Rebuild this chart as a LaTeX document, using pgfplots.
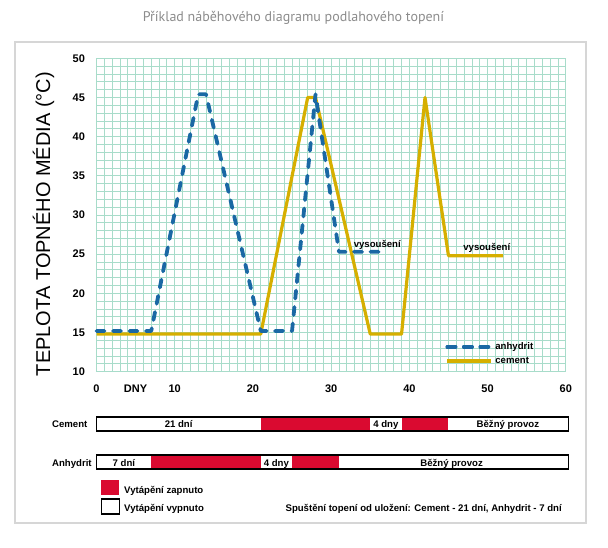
\documentclass[border=0pt]{standalone}
\usepackage{pgfplots}
\pgfplotsset{compat=1.18}
\usepackage{fontspec}
\setmainfont{Liberation Sans}
\newfontfamily\titlefont{PT Sans}

\definecolor{gridc}{RGB}{168,220,202}
\definecolor{anhc}{RGB}{26,104,164}
\definecolor{cemc}{RGB}{214,175,0}
\definecolor{heatc}{RGB}{218,10,48}
\definecolor{framec}{RGB}{214,214,214}
\definecolor{titlec}{RGB}{140,140,140}

\newcommand{\sm}{\bfseries\fontsize{9.6}{11}\selectfont}

\begin{document}
\begin{tikzpicture}[x=1pt,y=1pt]
\useasboundingbox (0,0) rectangle (608,547);
\draw[framec, line width=1.3pt] (15,24) rectangle (586,505);
\node[titlec, font=\titlefont\fontsize{14}{16}\selectfont] at (293.5,529)
  {Příklad náběhového diagramu podlahového topení};

% main chart
\begin{axis}[
  at={(96.5pt,175.3pt)}, anchor=south west,
  scale only axis, width=469.3pt, height=313.4pt,
  xmin=0, xmax=60, ymin=10, ymax=50,
  xtick={0,10,...,60}, xticklabels={0,10,20,30,40,50,60},
  extra x ticks={5}, extra x tick labels={DNY},
  extra x tick style={grid=none},
  ytick={10,15,...,50},
  minor x tick num=9, minor y tick num=4,
  grid=both,
  major grid style={gridc, line width=0.85pt},
  minor grid style={gridc, line width=0.85pt},
  axis line style={draw=none},
  major tick length=0pt, minor tick length=0pt,
  tick label style={font=\bfseries\fontsize{11}{13}\selectfont},
  /pgf/number format/assume math mode=true,
  xticklabel style={yshift=-10pt},
  yticklabel style={xshift=-8pt},
  ylabel={TEPLOTA TOPNÉHO MÉDIA (°C)},
  ylabel style={at={(axis description cs:-0.099,0.471)}, anchor=base,
    font=\fontsize{20}{24}\selectfont},
  legend style={at={(axis cs:44.6,10.6)}, anchor=south west, draw=none,
    fill=none, font=\sm, row sep=2pt, inner sep=0pt},
  legend cell align=left,
  legend image code/.code={\draw[#1] (0pt,0pt) -- (34pt,0pt);
    \path (0pt,0pt) -- (44pt,0pt);},
  reverse legend,
  clip=false,
]
\addplot[cemc, line width=3.2pt, line join=round] coordinates
  {(0,14.8)(21,14.8)(27,45)(28,45)(35,14.8)(39,14.8)(42,45)(45,24.8)(52,24.8)};
\addlegendentry{cement}
\addplot[anhc, line width=3.8pt, line cap=round, line join=round,
  dash pattern=on 8pt off 8.5pt] coordinates
  {(0,15.2)(7,15.2)(13,45.4)(14,45.4)(21,15.2)(25,15.2)(28,45.4)(31,25.3)(37,25.3)};
\addlegendentry{anhydrit}
\node[font=\sm, anchor=base] at (axis cs:35.9,25.8) {vysoušení};
\node[font=\sm, anchor=base] at (axis cs:49.9,25.5) {vysoušení};
\end{axis}

% heating schedule bars (y = distance from bottom of picture)
\begin{axis}[
  at={(96.5pt,0pt)}, anchor=south west,
  scale only axis, width=469.3pt, height=547pt,
  xmin=0, xmax=60, ymin=0, ymax=547,
  hide axis, clip=false,
]
% cement row
\addplot[fill=heatc, draw=none] coordinates {(21,116)(35,116)(35,130)(21,130)} -- cycle;
\addplot[fill=heatc, draw=none] coordinates {(39,116)(45,116)(45,130)(39,130)} -- cycle;
\addplot[black, line width=1.1pt] coordinates {(0,116)(60.3,116)(60.3,130)(0,130)} -- cycle;
% anhydrit row
\addplot[fill=heatc, draw=none] coordinates {(7,78)(21,78)(21,92)(7,92)} -- cycle;
\addplot[fill=heatc, draw=none] coordinates {(25,78)(31,78)(31,92)(25,92)} -- cycle;
\addplot[black, line width=1.1pt] coordinates {(0,78)(60.3,78)(60.3,92)(0,92)} -- cycle;
% key boxes
\addplot[fill=heatc, draw=none] coordinates {(0.6,52)(2.9,52)(2.9,67)(0.6,67)} -- cycle;
\addplot[black, line width=1.1pt] coordinates {(0.6,33)(2.9,33)(2.9,48)(0.6,48)} -- cycle;

\begin{scope}[every node/.style={font=\sm, inner sep=0pt}]
\node[anchor=base west] at (axis cs:-5.69,119.5) {Cement};
\node[anchor=base] at (axis cs:10.5,119.5) {21 dní};
\node[anchor=base] at (axis cs:37,119.5) {4 dny};
\node[anchor=base] at (axis cs:52.6,119.5) {Běžný provoz};
\node[anchor=base west] at (axis cs:-5.69,80.5) {Anhydrit};
\node[anchor=base] at (axis cs:3.5,80.5) {7 dní};
\node[anchor=base] at (axis cs:23,80.5) {4 dny};
\node[anchor=base] at (axis cs:45.4,80.5) {Běžný provoz};
\node[anchor=base west] at (axis cs:3.52,54) {Vytápění zapnuto};
\node[anchor=base west] at (axis cs:3.52,35.5) {Vytápění vypnuto};
\node[anchor=base east] at (axis cs:59.5,35.5) {Spuštění topení od uložení: Cement - 21 dní, Anhydrit - 7 dní};
\end{scope}
\end{axis}
\end{tikzpicture}
\end{document}
